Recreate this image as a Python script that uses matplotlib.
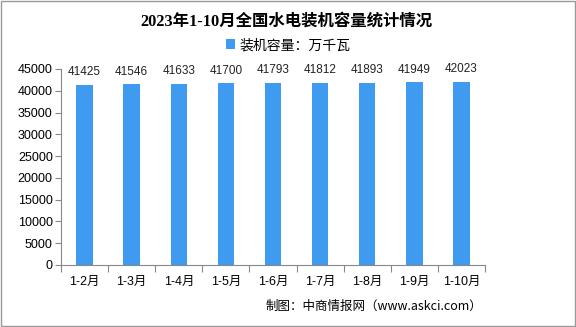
import matplotlib
matplotlib.use("Agg")
import matplotlib.pyplot as plt
from matplotlib.patches import Rectangle

categories = ["1-2月", "1-3月", "1-4月", "1-5月", "1-6月", "1-7月", "1-8月", "1-9月", "1-10月"]
values = [41425, 41546, 41633, 41700, 41793, 41812, 41893, 41949, 42023]
series_name = "装机容量：万千瓦"
title = "2023年1-10月全国水电装机容量统计情况"
source = "制图：中商情报网（www.askci.com）"
yticks = list(range(0, 45001, 5000))

plt.rcParams['font.family'] = ['Liberation Sans', 'Noto Sans CJK SC']
bar_color = "#3E9BF0"

fig = plt.figure(figsize=(5.76, 3.27), dpi=100)
ax = fig.add_axes([0.106, 0.19, 0.736, 0.599])

x = list(range(len(categories)))
ax.bar(x, values, width=0.35, color=bar_color, label=series_name, zorder=2)
for xi, v in zip(x, values):
    ax.text(xi, v + 1500, str(v), ha="center", va="bottom", fontsize=8.5,
            family=['Liberation Sans', 'Noto Sans CJK SC'], color="#222222")

ax.set_xlim(-0.5, len(categories) - 0.5)
ax.set_ylim(0, 45000)
ax.set_yticks(yticks)
ax.set_yticklabels([str(t) for t in yticks], fontsize=9)
ax.set_xticks([i - 0.5 for i in range(len(categories) + 1)])
ax.set_xticklabels([])
ax.set_xticks(x, minor=True)
ax.set_xticklabels(categories, minor=True, fontsize=9)
ax.tick_params(axis="x", which="minor", length=0, pad=8)
ax.tick_params(axis="x", which="major", length=5, direction="out", color="#888888")
ax.tick_params(axis="y", length=4, direction="out", color="#888888", pad=2)
for s in ["top", "right"]:
    ax.spines[s].set_visible(False)
for s in ["left", "bottom"]:
    ax.spines[s].set_color("#888888")

fig.text(0.497, 0.935, title, ha="center", va="center", fontsize=11.8, fontweight="bold",
         family=['Liberation Serif', 'Noto Sans CJK SC'])
leg = fig.legend(loc="center", bbox_to_anchor=(0.5, 0.862), frameon=False, fontsize=10,
                 handlelength=0.7, handleheight=0.7, handletextpad=0.3)
fig.text(0.838, 0.062, source, ha="right", va="center", fontsize=9,
         family=['Noto Sans CJK SC', 'DejaVu Sans'])

fig.patches.append(Rectangle((0.001, 0.002), 0.997, 0.995, transform=fig.transFigure,
                             fill=False, edgecolor="#999999", linewidth=1))
fig.savefig("out.png", dpi=100)
